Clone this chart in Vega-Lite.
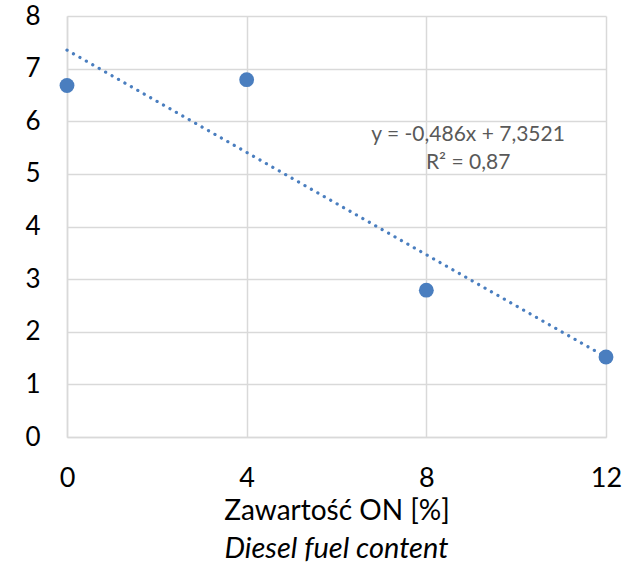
{
  "$schema": "https://vega.github.io/schema/vega-lite/v6.json",
  "width": 539,
  "height": 421,
  "autosize": {"type": "none"},
  "padding": {"left": 67, "top": 16, "right": 30, "bottom": 129},
  "background": "white",
  "config": {
    "view": {"stroke": null},
    "font": "Lato",
    "axis": {"gridColor": "#d9d9d9", "gridWidth": 1.5, "domainColor": "#d9d9d9", "domainWidth": 1.5, "ticks": false, "labelFlush": false, "labelOverlap": false, "labelColor": "#000000", "labelFont": "Lato", "labelFontSize": 27, "titleFont": "Lato", "titleFontWeight": "normal", "titleColor": "#000000", "titleFontSize": 28}
  },
  "datasets": {
    "points": [
      {"x": 0, "y": 6.68},
      {"x": 4, "y": 6.79},
      {"x": 8, "y": 2.79},
      {"x": 12, "y": 1.52}
    ],
    "trend": [
      {"x": 0, "y": 7.3521},
      {"x": 12, "y": 1.5201}
    ],
    "labels": [
      {"x": 8.93, "y": 5.74, "t": "y = -0,486x + 7,3521"},
      {"x": 8.93, "y": 5.2, "t": "R² = 0,87"}
    ]
  },
  "title": {"text": "Diesel fuel content", "orient": "bottom", "fontStyle": "italic", "fontWeight": "normal", "fontSize": 29, "font": "Lato", "color": "#000000", "offset": 10, "anchor": "middle"},
  "layer": [
    {
      "data": {"name": "trend"},
      "mark": {"type": "line", "color": "#4A7EBF", "strokeWidth": 3.2, "strokeCap": "round", "strokeDash": [0.1, 7.3]},
      "encoding": {
        "x": {"field": "x", "type": "quantitative", "scale": {"domain": [0, 12], "nice": false}, "axis": {"values": [0, 4, 8, 12], "grid": true, "labelPadding": 28, "title": "Zawartość ON [%]", "titlePadding": 6}},
        "y": {"field": "y", "type": "quantitative", "scale": {"domain": [0, 8], "nice": false}, "axis": {"values": [0, 1, 2, 3, 4, 5, 6, 7, 8], "grid": true, "labelPadding": 27, "labelFontSize": 26, "title": null}}
      }
    },
    {
      "data": {"name": "points"},
      "mark": {"type": "circle", "color": "#4A7EBF", "opacity": 1, "size": 220},
      "encoding": {
        "x": {"field": "x", "type": "quantitative"},
        "y": {"field": "y", "type": "quantitative"}
      }
    },
    {
      "data": {"name": "labels"},
      "mark": {"type": "text", "color": "#595959", "fontSize": 21, "font": "Lato", "align": "center", "baseline": "middle"},
      "encoding": {
        "x": {"field": "x", "type": "quantitative"},
        "y": {"field": "y", "type": "quantitative"},
        "text": {"field": "t"}
      }
    }
  ]
}
